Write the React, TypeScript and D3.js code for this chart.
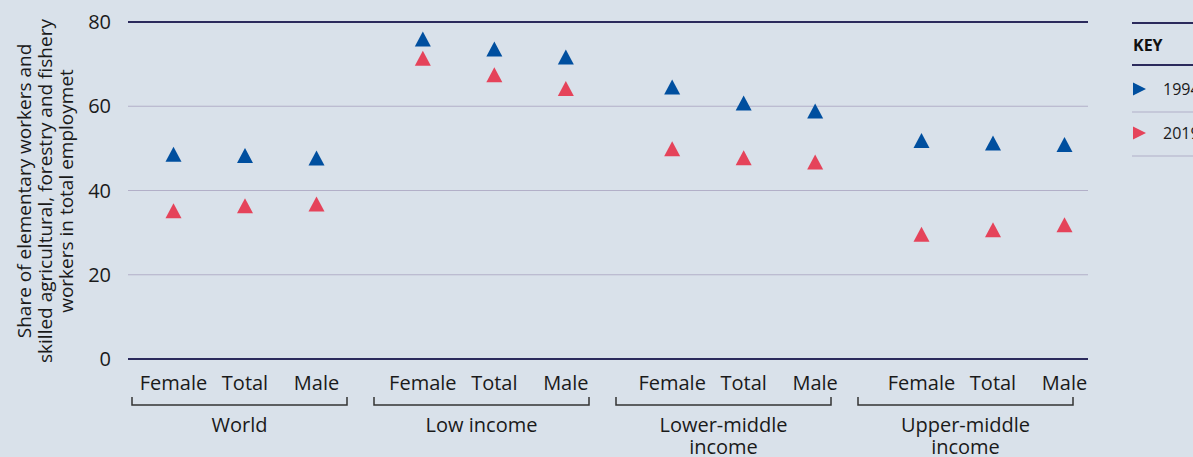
import React from "react";
import * as d3 from "d3";

const groups = ["World", "Low income", "Lower-middle income", "Upper-middle income"];
const groupLabelLines = [["World"], ["Low income"], ["Lower-middle", "income"], ["Upper-middle", "income"]];
const subcats = ["Female", "Total", "Male"];
const values1994 = [48.0, 47.7, 47.1, 75.4, 73.0, 71.1, 64.0, 60.2, 58.3, 51.3, 50.7, 50.3];
const values2019 = [34.6, 35.8, 36.2, 70.8, 66.9, 63.6, 49.3, 47.2, 46.2, 29.0, 30.1, 31.3];
const yTicks = [0, 20, 40, 60, 80];
const seriesNames = ["1994", "2019"];
const yTitleLines = [
  "Share of elementary workers and",
  "skilled agricultural, forestry and fishery",
  "workers in total employmet",
];

const W = 1193;
const H = 457;
const BG = "#d9e1ea";
const BLUE = "#004f9f";
const RED = "#e5435a";
const NAVY = "#2b2a5c";
const GRID = "#b2afc8";
const FONT = "'Open Sans', 'Noto Sans', sans-serif";

export default function App() {
  const y = d3.scaleLinear().domain([0, 80]).range([359, 22]);
  const gx = d3.scalePoint<string>().domain(groups).range([245, 993]);
  const sx = d3.scalePoint<string>().domain(subcats).range([-71.5, 71.5]);
  const bx = d3.scaleBand<string>().domain(groups).range([132, 1073]).paddingInner(27 / 242).paddingOuter(0);
  const plotX0 = 128;
  const plotX1 = 1088;

  const points: { x: number; v: number; s: number }[] = [];
  groups.forEach((g, gi) => {
    subcats.forEach((c, ci) => {
      const i = gi * subcats.length + ci;
      const x = (gx(g) as number) + (sx(c) as number);
      points.push({ x, v: values1994[i], s: 0 });
      points.push({ x, v: values2019[i], s: 1 });
    });
  });
  const tri = "M0,-10L8,5L-8,5Z";
  const triRight = "M-6,-6.5L7,0L-6,6.5Z";
  const colors = [BLUE, RED];

  return (
    <svg width={W} height={H} style={{ position: "absolute", left: 0, top: 0, fontFamily: FONT }}>
      <rect x={0} y={0} width={W} height={H} fill={BG} />
      {/* gridlines */}
      {yTicks.map((t) => (
        <g key={t}>
          <line
            x1={plotX0}
            x2={plotX1}
            y1={y(t)}
            y2={y(t)}
            stroke={t === 0 || t === 80 ? NAVY : GRID}
            strokeWidth={t === 0 || t === 80 ? 2 : 1.2}
          />
          <text x={111} y={y(t)} dy="0.35em" textAnchor="end" fontSize={20} fill="#1a1a1a">
            {t}
          </text>
        </g>
      ))}
      {/* y title */}
      <g transform={`translate(45,191) rotate(-90)`}>
        {yTitleLines.map((l, i) => (
          <text key={i} x={0} y={(i - 1) * 21} dy="0.35em" textAnchor="middle" fontSize={19} fill="#1a1a1a">
            {l}
          </text>
        ))}
      </g>
      {/* points */}
      {points.map((p, i) => (
        <path key={i} d={tri} transform={`translate(${p.x},${y(p.v)})`} fill={colors[p.s]} />
      ))}
      {/* category labels */}
      {groups.map((g) =>
        subcats.map((c) => (
          <text
            key={g + c}
            x={(gx(g) as number) + (sx(c) as number)}
            y={390}
            textAnchor="middle"
            fontSize={20}
            fill="#1a1a1a"
          >
            {c}
          </text>
        ))
      )}
      {/* brackets */}
      {groups.map((g, gi) => {
        const x0 = bx(g) as number;
        const x1 = x0 + bx.bandwidth();
        const cx = (x0 + x1) / 2;
        return (
          <g key={g}>
            <path
              d={`M${x0},397V405H${x1}V397`}
              fill="none"
              stroke="#333"
              strokeWidth={1.5}
            />
            {groupLabelLines[gi].map((l, li) => (
              <text key={li} x={cx} y={432 + li * 22} textAnchor="middle" fontSize={20} fill="#1a1a1a">
                {l}
              </text>
            ))}
          </g>
        );
      })}
      {/* legend */}
      <g>
        <line x1={1132} x2={W} y1={23} y2={23} stroke={NAVY} strokeWidth={2} />
        <text x={1133} y={45} dy="0.35em" fontSize={16} fontWeight="bold" fill="#111">
          KEY
        </text>
        <line x1={1132} x2={W} y1={65} y2={65} stroke={NAVY} strokeWidth={2} />
        {seriesNames.map((s, i) => (
          <g key={s} transform={`translate(0,${89 + i * 44})`}>
            <path d={triRight} transform="translate(1139,0)" fill={colors[i]} />
            <text x={1163} y={0} dy="0.35em" fontSize={16} fill="#1a1a1a">
              {s}
            </text>
            <line x1={1132} x2={W} y1={23} y2={23} stroke={GRID} strokeWidth={1.2} />
          </g>
        ))}
      </g>
    </svg>
  );
}
